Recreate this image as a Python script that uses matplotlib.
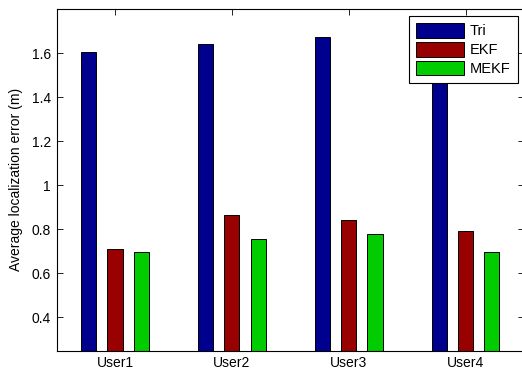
import matplotlib

matplotlib.use("Agg")
import matplotlib.pyplot as plt
import numpy as np

plt.rcParams.update({
    "font.family": "Liberation Sans",
    "font.size": 10,
})

users = ["User1", "User2", "User3", "User4"]
methods = ["Tri", "EKF", "MEKF"]
tri_err = [1.605, 1.643, 1.672, 1.640]
ekf_err = [0.711, 0.863, 0.842, 0.791]
mekf_err = [0.697, 0.755, 0.781, 0.699]
colors = ["#00008F", "#990000", "#00CC00"]

fig = plt.figure(figsize=(5.22, 3.75), dpi=100)
ax = fig.add_axes([56.5 / 522, 24.5 / 375, 467.5 / 522, 341.5 / 375])

x = np.arange(1, len(users) + 1)
offsets = [-0.225, 0.0, 0.225]
width = 0.13
for vals, off, c, name in zip([tri_err, ekf_err, mekf_err], offsets, colors, methods):
    ax.bar(x + off, vals, width, color=c, edgecolor="black", linewidth=0.7,
           label=name, zorder=2)

ax.set_xlim(0.5, 4.5)
ax.set_ylim(0.25, 1.8)
ax.set_xticks(x)
ax.set_xticklabels(users)
yt = np.arange(0.4, 1.61, 0.2)
ax.set_yticks(yt)
ax.set_yticklabels([f"{v:g}" for v in np.round(yt, 1)])
ax.tick_params(direction="in", length=4, width=0.6, top=True, right=True,
               labelsize=10, pad=4)
for s in ax.spines.values():
    s.set_linewidth(0.8)
ax.set_ylabel("Average localization error (m)", labelpad=6)

leg = ax.legend(loc="upper right", bbox_to_anchor=(518 / 522, 1 - 16 / 375),
                bbox_transform=fig.transFigure, fancybox=False, framealpha=1,
                edgecolor="black", borderaxespad=0, borderpad=0.5,
                handlelength=3.3, handleheight=1.15, handletextpad=0.4,
                labelspacing=0.25, fontsize=10.5)
leg.get_frame().set_linewidth(0.8)

fig.savefig("out.png", dpi=100)
